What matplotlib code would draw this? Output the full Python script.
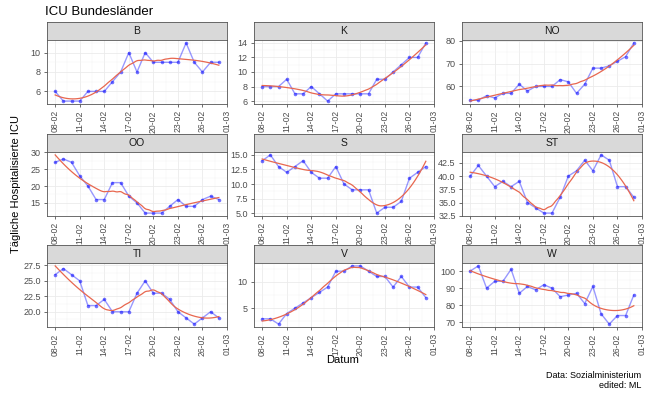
import numpy as np
import pandas as pd
import matplotlib
matplotlib.use("Agg")
import matplotlib.pyplot as plt

plt.rcParams['font.family'] = ['Liberation Sans', 'DejaVu Sans']

# Daily ICU patients, 08-02 .. 28-02
DAYS = pd.date_range("2021-02-08", "2021-02-28", freq="D")
REGIONS = ["B", "K", "NO", "OO", "S", "ST", "TI", "V", "W"]

icu_B = [6, 5, 5, 5, 6, 6, 6, 7, 8, 10, 8, 10, 9, 9, 9, 9, 11, 9, 8, 9, 9]
icu_K = [8, 8, 8, 9, 7, 7, 8, 7, 6, 7, 7, 7, 7, 7, 9, 9, 10, 11, 12, 12, 14]
icu_NO = [54, 54, 56, 55, 57, 57, 61, 58, 60, 60, 60, 63, 62, 57, 61, 68, 68, 69, 71, 73, 79]
icu_OO = [27, 28, 27, 23, 20, 16, 16, 21, 21, 17, 15, 12, 12, 12, 14, 16, 14, 14, 16, 17, 16]
icu_S = [14, 15, 13, 12, 13, 14, 12, 11, 11, 13, 10, 9, 9, 9, 5, 6, 6, 7, 11, 12, 13]
icu_ST = [40, 42, 40, 38, 39, 38, 39, 35, 34, 33, 33, 36, 40, 41, 43, 41, 44, 43, 38, 38, 36]
icu_TI = [26, 27, 26, 25, 21, 21, 22, 20, 20, 20, 23, 25, 23, 23, 22, 20, 19, 18, 19, 20, 19]
icu_V = [3, 3, 2, 4, 5, 6, 7, 8, 9, 12, 12, 13, 13, 12, 11, 11, 9, 11, 9, 9, 7]
icu_W = [100, 103, 90, 94, 94, 101, 87, 91, 89, 92, 90, 85, 86, 87, 81, 91, 75, 69, 74, 74, 86]

ICU = [icu_B, icu_K, icu_NO, icu_OO, icu_S, icu_ST, icu_TI, icu_V, icu_W]

YTICKS = [
    ["6", "8", "10"],
    ["6", "8", "10", "12", "14"],
    ["60", "70", "80"],
    ["15", "20", "25", "30"],
    ["5.0", "7.5", "10.0", "12.5", "15.0"],
    ["32.5", "35.0", "37.5", "40.0", "42.5"],
    ["20.0", "22.5", "25.0", "27.5"],
    ["5", "10"],
    ["70", "80", "90", "100"],
]

XTICK_DATES = pd.date_range("2021-02-08", "2021-03-01", freq="3D")


def loess(x, y, xs, span=0.65):
    # local quadratic fit with tricube weights (like ggplot's geom_smooth)
    n = len(x)
    q = int(np.floor(span * n))
    out = []
    for x0 in xs:
        d = np.abs(x - x0)
        h = np.sort(d)[q - 1]
        w = np.clip(1 - (d / h) ** 3, 0, None) ** 3
        A = np.vstack([np.ones(n), x - x0, (x - x0) ** 2]).T
        sw = np.sqrt(w)
        coef = np.linalg.lstsq(A * sw[:, None], y * sw, rcond=None)[0]
        out.append(coef[0])
    return np.array(out)


W_PX, H_PX = 656, 393
fig = plt.figure(figsize=(W_PX / 100, H_PX / 100), dpi=100)

col_left = [47, 254, 462]
col_w = 180
row_strip_top = [22, 134, 245]
strip_h = 18
plot_h = 64

x_num = np.array([(d - DAYS[0]).days for d in DAYS], dtype=float)
x_ticks = np.array([(d - DAYS[0]).days for d in XTICK_DATES], dtype=float)
x_labels = XTICK_DATES.strftime("%d-%m")
xs = np.linspace(x_num[0], x_num[-1], 120)

for i, (name, vals, yt) in enumerate(zip(REGIONS, ICU, YTICKS)):
    r, c = divmod(i, 3)
    left = col_left[c] / W_PX
    top = row_strip_top[r]
    sax = fig.add_axes([left, 1 - (top + strip_h) / H_PX, col_w / W_PX, strip_h / H_PX])
    sax.set_facecolor("#D9D9D9")
    sax.set_xticks([])
    sax.set_yticks([])
    for sp in sax.spines.values():
        sp.set_color("#555555")
        sp.set_linewidth(0.6)
    sax.text(0.5, 0.5, name, ha="center", va="center", fontsize=7.5, color="#1A1A1A",
             transform=sax.transAxes)

    ax = fig.add_axes([left, 1 - (top + strip_h + plot_h) / H_PX, col_w / W_PX, plot_h / H_PX])
    y = np.array(vals, dtype=float)
    smooth = loess(x_num, y, xs)

    ax.plot(x_num, y, color="blue", alpha=0.4, lw=1.0, zorder=3)
    ax.plot(x_num, y, "o", color="blue", alpha=0.55, ms=2.6, mec="none", zorder=4)
    ax.plot(xs, smooth, color="#E8674F", lw=0.9, zorder=5)

    lo = min(y.min(), smooth.min())
    hi = max(y.max(), smooth.max())
    pad = (hi - lo) * 0.05

    ytv = [float(t) for t in yt]
    ax.set_yticks(ytv)
    ax.set_yticklabels(yt)
    step = ytv[1] - ytv[0]
    ax.set_yticks([t + step / 2 for t in [ytv[0] - step] + ytv], minor=True)
    ax.set_xticks(x_ticks)
    ax.set_xticklabels(x_labels, rotation=90)
    ax.set_xticks(x_ticks[:-1] + 1.5, minor=True)
    ax.set_ylim(lo - pad, hi + pad)
    ax.set_xlim(x_num[0] - 1, x_num[-1] + 1)

    ax.grid(which="major", color="#EBEBEB", lw=0.6)
    ax.grid(which="minor", color="#F3F3F3", lw=0.35)
    ax.set_axisbelow(True)
    ax.tick_params(which="major", labelsize=6.5, labelcolor="#4D4D4D", color="#333333",
                   length=2.5, width=0.5, pad=2)
    ax.tick_params(axis="x", which="major", labelsize=6.2)
    ax.tick_params(which="minor", length=0)
    for sp in ax.spines.values():
        sp.set_color("#555555")
        sp.set_linewidth(0.6)

fig.text(45 / W_PX, 1 - 12 / H_PX, "ICU Bundesländer", fontsize=9.5, ha="left", va="center")
fig.text(16 / W_PX, 1 - 184 / H_PX, "Tägliche Hospitalisierte ICU", fontsize=8, rotation=90,
         ha="center", va="center")
fig.text(343 / W_PX, 1 - 360 / H_PX, "Datum", fontsize=8, ha="center", va="center")
fig.text(641 / W_PX, 1 - 375 / H_PX, "Data: Sozialministerium", fontsize=6.5, ha="right", va="center")
fig.text(641 / W_PX, 1 - 385 / H_PX, "edited: ML", fontsize=6.5, ha="right", va="center")

fig.savefig("out.png", dpi=100)
